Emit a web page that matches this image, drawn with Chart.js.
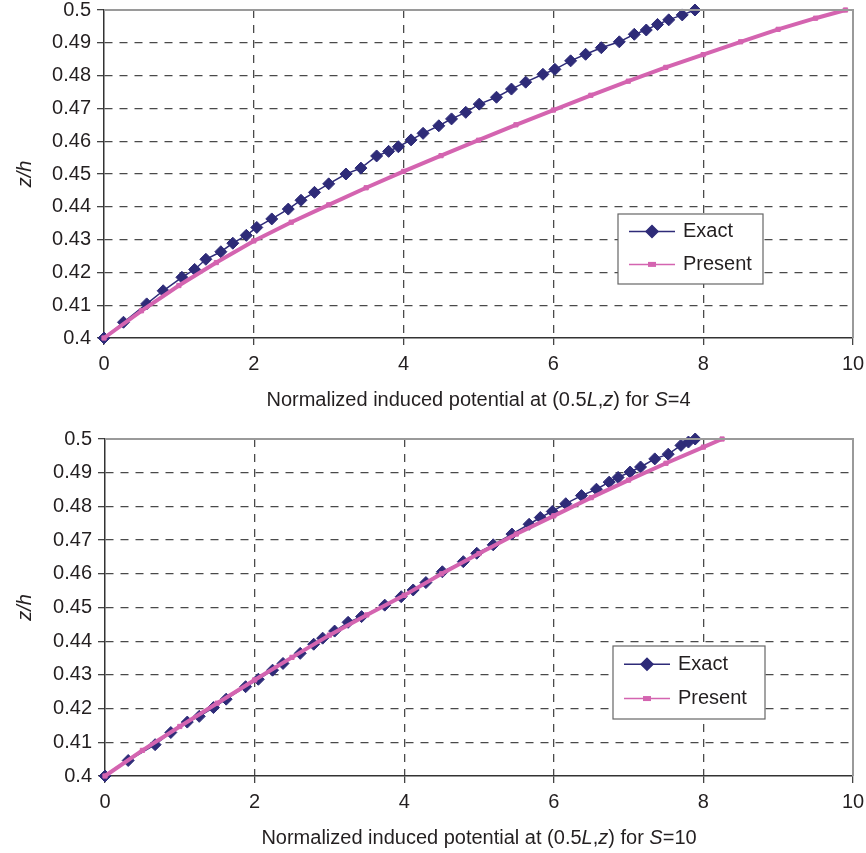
<!DOCTYPE html>
<html><head><meta charset="utf-8">
<script src="https://cdn.jsdelivr.net/npm/chart.js@4.4.1/dist/chart.umd.min.js"></script>
<style>
html,body{margin:0;padding:0;background:#fff;}
#w1{position:absolute;left:0;top:0;width:866px;height:420px;}
#w2{position:absolute;left:0;top:420px;width:866px;height:433px;}
</style></head><body>
<div id="w1"><canvas id="c1"></canvas></div>
<div id="w2"><canvas id="c2"></canvas></div>
<script>
// ---- data ----
const seriesNames = ['Exact', 'Present'];
const xTickValues = [0, 2, 4, 6, 8, 10];
const yTickValues = [0.4, 0.41, 0.42, 0.43, 0.44, 0.45, 0.46, 0.47, 0.48, 0.49, 0.5];

// S = 4
const s4ExactX = [0, 0.26, 0.57, 0.79, 1.04, 1.21, 1.36, 1.56, 1.72, 1.90, 2.04, 2.24, 2.46, 2.63, 2.81, 3.00, 3.23, 3.43, 3.64, 3.80, 3.93, 4.10, 4.26, 4.47, 4.64, 4.83, 5.01, 5.24, 5.44, 5.63, 5.86, 6.02, 6.23, 6.43, 6.64, 6.88, 7.08, 7.24, 7.39, 7.54, 7.72, 7.89];
const s4ExactY = [0.4, 0.4048, 0.4104, 0.4144, 0.4185, 0.4209, 0.4240, 0.4263, 0.4289, 0.4313, 0.4337, 0.4363, 0.4393, 0.4420, 0.4444, 0.4470, 0.4500, 0.4518, 0.4555, 0.4569, 0.4583, 0.4604, 0.4624, 0.4647, 0.4668, 0.4688, 0.4713, 0.4734, 0.4759, 0.4780, 0.4804, 0.4819, 0.4845, 0.4865, 0.4885, 0.4903, 0.4926, 0.4939, 0.4956, 0.4970, 0.4985, 0.5];
const s4PresentX = [0, 0.5, 1, 1.5, 2, 2.5, 3, 3.5, 4, 4.5, 5, 5.5, 6, 6.5, 7, 7.5, 8, 8.5, 9, 9.5, 9.9];
const s4PresentY = [0.4, 0.4083, 0.4160, 0.4230, 0.4296, 0.4353, 0.4406, 0.4458, 0.4508, 0.4556, 0.4603, 0.4650, 0.4695, 0.4740, 0.4783, 0.4825, 0.4864, 0.4903, 0.4941, 0.4975, 0.5];

// S = 10
const s10ExactX = [0, 0.31, 0.67, 0.88, 1.10, 1.26, 1.45, 1.62, 1.88, 2.05, 2.24, 2.38, 2.61, 2.79, 2.91, 3.07, 3.25, 3.43, 3.74, 3.96, 4.12, 4.29, 4.51, 4.79, 4.97, 5.19, 5.44, 5.67, 5.82, 5.98, 6.16, 6.37, 6.57, 6.74, 6.86, 7.02, 7.16, 7.35, 7.53, 7.70, 7.80, 7.89];
const s10ExactY = [0.4, 0.4046, 0.4093, 0.4129, 0.4160, 0.4177, 0.4203, 0.4228, 0.4265, 0.4287, 0.4314, 0.4334, 0.4364, 0.4391, 0.4409, 0.4430, 0.4456, 0.4473, 0.4507, 0.4532, 0.4552, 0.4574, 0.4606, 0.4636, 0.4661, 0.4686, 0.4718, 0.4747, 0.4767, 0.4785, 0.4808, 0.4832, 0.4851, 0.4872, 0.4886, 0.4902, 0.4917, 0.4941, 0.4955, 0.4981, 0.4991, 0.5];
const s10PresentX = [0, 0.5, 1, 1.5, 2, 2.5, 3, 3.5, 4, 4.5, 5, 5.5, 6, 6.5, 7, 7.5, 8, 8.25];
const s10PresentY = [0.4, 0.4076, 0.4147, 0.4216, 0.4285, 0.4352, 0.4418, 0.4478, 0.4536, 0.4600, 0.4660, 0.4718, 0.4772, 0.4826, 0.4878, 0.4928, 0.4976, 0.5];

const xTitle4 = [['Normalized induced potential at (0.5', false], ['L', true], [',', false], ['z', true], [') for ', false], ['S', true], ['=4', false]];
const xTitle10 = [['Normalized induced potential at (0.5', false], ['L', true], [',', false], ['z', true], [') for ', false], ['S', true], ['=10', false]];
const yTitle = 'z/h';

// ---- styles ----
const NAVY = '#2E2B78';
const PINK = '#D464B0';
const TXT = '#231f20';
const FONT = '"Liberation Sans", Arial, Helvetica, sans-serif';
const FS = 20;

const zip = (xs, ys) => xs.map((x, i) => ({x, y: ys[i]}));

const decor = {
  id: 'decor',
  afterDraw(chart, args, o) {
    const ctx = chart.ctx, a = chart.chartArea;
    ctx.save();
    // top & right frame
    ctx.strokeStyle = '#9a9a9a'; ctx.lineWidth = 2;
    ctx.beginPath();
    ctx.moveTo(a.left, a.top); ctx.lineTo(a.right, a.top); ctx.lineTo(a.right, a.bottom);
    ctx.stroke();
    // x title (mixed italic)
    ctx.fillStyle = TXT; ctx.textBaseline = 'middle';
    let total = 0;
    o.xTitle.forEach(([t, it]) => { ctx.font = (it ? 'italic ' : '') + FS + 'px ' + FONT; total += ctx.measureText(t).width; });
    let x = (a.left + a.right) / 2 - total / 2;
    o.xTitle.forEach(([t, it]) => { ctx.font = (it ? 'italic ' : '') + FS + 'px ' + FONT; ctx.textAlign = 'left'; ctx.fillText(t, x, o.titleY); x += ctx.measureText(t).width; });
    // y title
    ctx.save();
    ctx.translate(o.yTitleX, (a.top + a.bottom) / 2);
    ctx.rotate(-Math.PI / 2);
    ctx.font = 'italic ' + FS + 'px ' + FONT; ctx.textAlign = 'center';
    ctx.fillText(yTitle, 0, 0);
    ctx.restore();
    // legend
    const L = o.legend;
    ctx.fillStyle = '#fff'; ctx.fillRect(L.x, L.y, L.w, L.h);
    ctx.strokeStyle = '#666'; ctx.lineWidth = 1.2; ctx.strokeRect(L.x, L.y, L.w, L.h);
    const rows = [L.y + L.h * 0.25, L.y + L.h * 0.72];
    // Exact
    ctx.strokeStyle = NAVY; ctx.lineWidth = 1.5;
    ctx.beginPath(); ctx.moveTo(L.x + 11, rows[0]); ctx.lineTo(L.x + 57, rows[0]); ctx.stroke();
    Chart.helpers.drawPoint(ctx, {pointStyle: 'rectRot', radius: 6, borderWidth: 1}, L.x + 34, rows[0]);
    ctx.fillStyle = NAVY; ctx.fill();
    // Present
    ctx.strokeStyle = PINK; ctx.lineWidth = 1.5;
    ctx.beginPath(); ctx.moveTo(L.x + 11, rows[1]); ctx.lineTo(L.x + 57, rows[1]); ctx.stroke();
    ctx.fillStyle = PINK; ctx.fillRect(L.x + 30, rows[1] - 2.5, 8, 5);
    ctx.fillStyle = TXT; ctx.font = FS + 'px ' + FONT; ctx.textAlign = 'left'; ctx.textBaseline = 'middle';
    ctx.fillText(seriesNames[0], L.x + 65, rows[0]);
    ctx.fillText(seriesNames[1], L.x + 65, rows[1]);
    ctx.restore();
  }
};

function makeChart(id, exact, present, cfg) {
  return new Chart(document.getElementById(id), {
    type: 'scatter',
    data: {
      datasets: [
        {label: seriesNames[0], data: exact, showLine: true, borderColor: NAVY, backgroundColor: NAVY,
         borderWidth: 1.5, pointStyle: 'rectRot', pointRadius: 6, pointBorderWidth: 1, tension: 0, clip: false, order: 1},
        {label: seriesNames[1], data: present, showLine: true, borderColor: PINK, backgroundColor: PINK,
         borderWidth: 4, pointStyle: 'rect', pointRadius: 3, pointBorderWidth: 1, tension: 0, clip: false, order: 0}
      ]
    },
    options: {
      responsive: true, maintainAspectRatio: false, animation: false, events: [],
      layout: {padding: {top: cfg.top, right: cfg.right, left: 0, bottom: 0}},
      plugins: {legend: {display: false}, tooltip: {enabled: false},
        decor: {xTitle: cfg.xTitle, titleY: cfg.titleY, yTitleX: 25, legend: cfg.legend}},
      scales: {
        x: {
          type: 'linear', min: 0, max: 10,
          afterBuildTicks: s => { s.ticks = xTickValues.map(v => ({value: v})); },
          afterFit: s => { s.height = cfg.xh; s.paddingLeft = 0; s.paddingRight = 0; },
          ticks: {font: {family: FONT, size: FS}, color: TXT, padding: 7, maxRotation: 0, autoSkip: false,
                  callback: v => String(v)},
          grid: {color: c => (c.tick && (c.tick.value === 10 || c.tick.value === 0)) ? 'rgba(0,0,0,0)' : '#4a4a4a',
                 lineWidth: 1.3, tickLength: 7, tickColor: '#444', tickWidth: 1.3, tickBorderDash: []},
          border: {color: '#333', width: 1.5, dash: [8, 7]}
        },
        y: {
          type: 'linear', min: 0.4, max: 0.5,
          afterBuildTicks: s => { s.ticks = yTickValues.map(v => ({value: v})); },
          afterFit: s => { s.width = cfg.yw; s.paddingTop = 0; s.paddingBottom = 0; },
          ticks: {font: {family: FONT, size: FS}, color: TXT, padding: 6, autoSkip: false,
                  callback: v => String(+(+v).toFixed(2))},
          grid: {color: c => (c.tick && (Math.abs(c.tick.value - 0.5) < 1e-9 || Math.abs(c.tick.value - 0.4) < 1e-9)) ? 'rgba(0,0,0,0)' : '#4a4a4a',
                 lineWidth: 1.3, tickLength: 7, tickColor: '#444', tickWidth: 1.3, tickBorderDash: []},
          border: {color: '#333', width: 1.5, dash: [8, 7]}
        }
      }
    },
    plugins: [decor]
  });
}

makeChart('c1', zip(s4ExactX, s4ExactY), zip(s4PresentX, s4PresentY),
  {top: 10, right: 13, xh: 82, yw: 104, xTitle: xTitle4, titleY: 400, legend: {x: 618, y: 214, w: 145, h: 70}});
makeChart('c2', zip(s10ExactX, s10ExactY), zip(s10PresentX, s10PresentY),
  {top: 19, right: 13, xh: 77, yw: 105, xTitle: xTitle10, titleY: 418, legend: {x: 613, y: 226, w: 152, h: 73}});
</script>
</body></html>
